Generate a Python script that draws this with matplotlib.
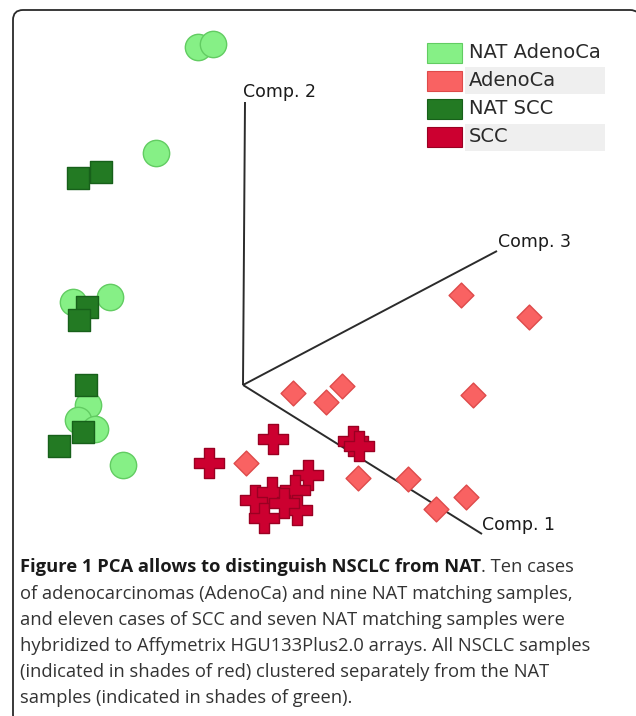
import matplotlib
matplotlib.use("Agg")
import matplotlib.pyplot as plt
from matplotlib.patches import FancyBboxPatch, Rectangle

# ---- data: samples projected on the 3D PCA view (screen coordinates) ----
categories = ["NAT AdenoCa", "AdenoCa", "NAT SCC", "SCC"]

nat_adeno_x = [198, 213, 156, 73, 110, 88, 78, 95, 123]
nat_adeno_y = [47, 44, 153, 302, 297, 405, 420, 429, 465]

adeno_x = [461, 529, 342, 326, 473, 293, 246, 358, 408, 466, 436]
adeno_y = [295, 317, 386, 402, 395, 393, 463, 478, 479, 497, 509]

nat_scc_x = [78, 101, 87, 79, 86, 83, 59]
nat_scc_y = [178, 172, 307, 320, 385, 432, 446]

scc_x = [209, 273, 353, 359, 308, 255, 272, 295, 264, 297, 284]
scc_y = [463, 439, 441, 446, 475, 500, 492, 490, 518, 510, 503]

axis_labels = ["Comp. 1", "Comp. 2", "Comp. 3"]

caption_bold = "Figure 1 PCA allows to distinguish NSCLC from NAT"
caption_lines = [
    ". Ten cases",
    "of adenocarcinomas (AdenoCa) and nine NAT matching samples,",
    "and eleven cases of SCC and seven NAT matching samples were",
    "hybridized to Affymetrix HGU133Plus2.0 arrays. All NSCLC samples",
    "(indicated in shades of red) clustered separately from the NAT",
    "samples (indicated in shades of green).",
]

# ---- styles ----
colors = {"NAT AdenoCa": ("#86F086", "#62CC62"),
          "AdenoCa": ("#F96262", "#DE4A4A"),
          "NAT SCC": ("#237A23", "#17601A"),
          "SCC": ("#CC0030", "#9A0022")}

W, H = 636, 716
fig = plt.figure(figsize=(W / 100, H / 100), dpi=100)
ax = fig.add_axes([0, 0, 1, 1])
ax.set_xlim(0, W)
ax.set_ylim(H, 0)
ax.axis("off")

# frame
frame = FancyBboxPatch((13, 10), 640 - 13, 725 - 10,
                       boxstyle="round,pad=0,rounding_size=10",
                       fc="white", ec="#2a2a2a", lw=1.3, zorder=0)
ax.add_patch(frame)

# 3D axes
origin = (243, 385)
ends = [(482, 534), (245, 102), (497, 251)]
label_pos = [(482, 525), (243, 92), (498, 242)]
for (ex, ey), (lx, ly), lab in zip(ends, label_pos, axis_labels):
    ax.plot([origin[0], ex], [origin[1], ey], color="#2b2b2b", lw=1.4,
            zorder=2, solid_capstyle="butt")
    ax.text(lx, ly, lab, fontsize=12.5, color="#1a1a1a", ha="left",
            va="center", family="DejaVu Sans", zorder=3)

# markers
ax.scatter(nat_adeno_x, nat_adeno_y, s=360, marker="o",
           c=colors["NAT AdenoCa"][0], edgecolors=colors["NAT AdenoCa"][1],
           linewidths=1.0, zorder=4)
ax.scatter(nat_scc_x, nat_scc_y, s=260, marker="s",
           c=colors["NAT SCC"][0], edgecolors=colors["NAT SCC"][1],
           linewidths=1.0, zorder=5)
ax.scatter(adeno_x, adeno_y, s=160, marker="D",
           c=colors["AdenoCa"][0], edgecolors=colors["AdenoCa"][1],
           linewidths=1.0, zorder=4)
ax.scatter(scc_x, scc_y, s=470, marker="P",
           c=colors["SCC"][0], edgecolors=colors["SCC"][1],
           linewidths=1.0, zorder=5)

# legend
row_y = [53, 80.5, 108.5, 137]
for i, (cat, yy) in enumerate(zip(categories, row_y)):
    if i % 2 == 1:
        ax.add_patch(Rectangle((465, yy - 13.5), 140, 27, fc="#EFEFEF",
                               ec="none", zorder=1))
    fc, ec = colors[cat]
    ax.add_patch(Rectangle((427, yy - 10), 35, 20, fc=fc, ec=ec, lw=0.8,
                           zorder=2))
    ax.text(469, yy, cat, fontsize=14, color="#2a2a2a", va="center",
            ha="left", family="DejaVu Sans", zorder=3)

# caption
cap_font = "Open Sans"
cap_size = 13.2
x0 = 20
line_y = [567, 594, 620, 646, 672, 698]
renderer = fig.canvas.get_renderer()
tb = ax.text(x0, line_y[0], caption_bold, fontsize=cap_size, fontweight="bold",
             family=cap_font, color="#1a1a1a", va="center", ha="left")
bb = tb.get_window_extent(renderer=renderer)
x_after = ax.transData.inverted().transform((bb.x1, bb.y0))[0]
ax.text(x_after, line_y[0], caption_lines[0], fontsize=cap_size,
        family=cap_font, color="#333333", va="center", ha="left")
for txt, yy in zip(caption_lines[1:], line_y[1:]):
    ax.text(x0, yy, txt, fontsize=cap_size, family=cap_font,
            color="#333333", va="center", ha="left")

fig.savefig("out.png", dpi=100)
